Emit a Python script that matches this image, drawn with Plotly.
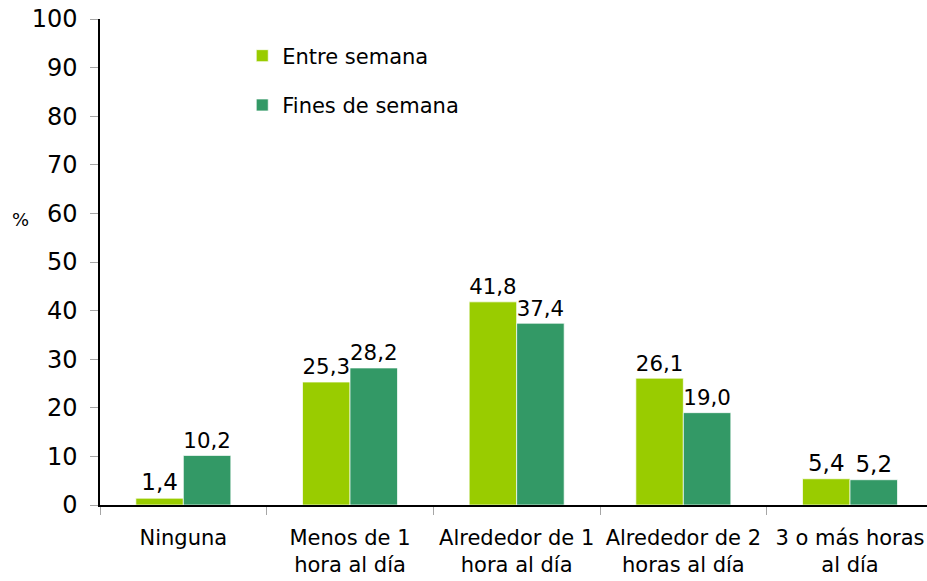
import plotly.graph_objects as go

categories = ["Ninguna", "Menos de 1<br>hora al día", "Alrededor de 1<br>hora al día",
              "Alrededor de 2<br>horas al día", "3 o más horas<br>al día"]
entre_semana = [1.4, 25.3, 41.8, 26.1, 5.4]
fines_semana = [10.2, 28.2, 37.4, 19.0, 5.2]
series_names = ["Entre semana", "Fines de semana"]
y_ticks = [0, 10, 20, 30, 40, 50, 60, 70, 80, 90, 100]

FONT = "DejaVu Sans"
colors = ["#99CC00", "#339966"]

fig = go.Figure()
for name, vals, col in zip(series_names, [entre_semana, fines_semana], colors):
    fig.add_trace(go.Bar(
        x=categories, y=vals, name=name, legendgroup=name,
        marker=dict(color=col, line=dict(color="rgba(255,255,255,0.7)", width=1)),
        texttemplate="%{y:.1f}", textposition="outside",
        textfont=dict(family=FONT, size=23, color="black"),
        cliponaxis=False,
    ))

fig.update_layout(
    width=927, height=581,
    margin=dict(l=100, r=0, t=19, b=76, pad=0, autoexpand=False),
    paper_bgcolor="white", plot_bgcolor="white",
    separators=",.",
    barmode="group", bargap=0.43, bargroupgap=0,
    font=dict(family=FONT, color="black"),
    showlegend=True,
    legend=dict(x=0.172, y=0.966, xanchor="left", yanchor="top",
                font=dict(family=FONT, size=21, color="black"),
                tracegroupgap=19, bgcolor="rgba(0,0,0,0)"),
    xaxis=dict(type="category", range=[-0.5, 4.462], showline=True, linecolor="black",
               linewidth=1.5, ticks="outside", tickson="boundaries", ticklen=8,
               tickcolor="#a6a6a6", showgrid=False, zeroline=False, automargin=False,
               ticklabelstandoff=13,
               tickfont=dict(family=FONT, size=21, color="black")),
    yaxis=dict(range=[0, 100], tickvals=y_ticks, showline=True, linecolor="black",
               linewidth=1.5, ticks="outside", ticklen=8, tickcolor="#a6a6a6",
               showgrid=False, zeroline=False, ticklabelstandoff=8, automargin=False,
               tickfont=dict(family=FONT, size=24, color="black")),
    annotations=[dict(text="%", xref="paper", yref="paper", x=-0.0967, y=0.587,
                      xanchor="center", yanchor="middle", showarrow=False,
                      font=dict(family=FONT, size=18, color="black"))],
)

fig.write_html("out.html", config={"displayModeBar": False},
               post_script="document.body.style.margin='0px';")
